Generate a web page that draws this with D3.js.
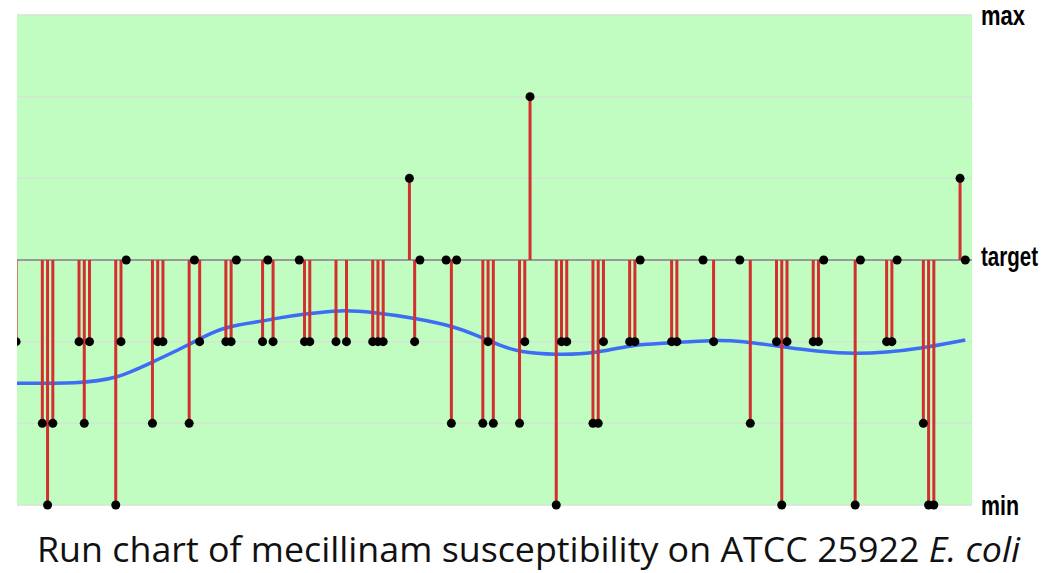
<!DOCTYPE html>
<html>
<head>
<meta charset="utf-8">
<script src="https://cdn.jsdelivr.net/npm/d3@7"></script>
<style>
	body { margin: 0; background: #fff; }
	svg { display: block; }
</style>
</head>
<body>
<svg id="chart" width="1058" height="573"></svg>
<script>
// run index of each measurement and its deviation from target (in steps)
let runIdx = [0, 5, 6, 7, 12, 13, 14, 19, 20, 21, 26, 27, 28, 33, 34, 35, 40, 41, 42,
	47, 48, 49, 54, 55, 56, 61, 63, 68, 69, 70, 75, 76, 77, 82, 83, 84,
	89, 90, 91, 96, 97, 98, 103, 104, 105, 110, 111, 112, 117, 118, 119,
	125, 126, 131, 133, 138, 140, 145, 146, 147, 152, 153, 154, 160, 161,
	166, 167, 168, 173, 174, 175, 180, 181];
let runVal = [-1, -2, -3, -2, -1, -2, -1, -3, -1, 0, -2, -1, -1, -2, 0, -1, -1, -1, 0,
	-1, 0, -1, 0, -1, -1, -1, -1, -1, -1, -1, 1, -1, 0, 0, -2, 0,
	-2, -1, -2, -2, -1, 2, -3, -1, -1, -2, -2, -1, -1, -1, 0,
	-1, -1, 0, -1, 0, -2, -1, -3, -1, -1, -1, 0, -3, 0,
	-1, -1, 0, -2, -3, -3, 1, 0];

// moving average (blue line)
let avgIdx = [0, 12, 19, 26, 33, 39, 47, 49, 55, 62, 68, 76, 84, 88, 92, 96, 103, 110, 117, 124, 133, 138, 147, 153, 160, 166, 172, 181];
let avgVal = [-1.51, -1.51, -1.46, -1.25, -1.04, -0.82, -0.75, -0.72, -0.66, -0.61, -0.64, -0.71, -0.82, -0.93, -1.04, -1.13, -1.16, -1.15, -1.04, -1.02, -0.98, -0.99, -1.07, -1.12, -1.15, -1.13, -1.09, -0.98];

let levels = [-3, -2, -1, 0, 1, 2, 3];
let sideLabels = ['min', 'target', 'max'];
let sideLevels = [-3, 0, 3];

let svg = d3.select('svg#chart');
let plot = { left: 17, right: 972, top: 15, bottom: 505 };

let x = d3.scaleLinear([0, 181], [16.1, 965.3]);
let y = d3.scaleLinear([-3, 3], [plot.bottom, plot.top]);

svg.append('defs').append('clipPath').attr('id', 'clipLeft')
	.append('rect')
	.attr('x', plot.left).attr('y', 0)
	.attr('width', 1058 - plot.left).attr('height', 573);

svg.append('rect')
	.attr('x', plot.left).attr('y', plot.top)
	.attr('width', plot.right - plot.left).attr('height', plot.bottom - plot.top)
	.attr('fill', '#c1fcc1');

//gridlines
svg.append('g').selectAll('line')
	.data(levels.filter(d => d != 0))
	.join('line')
	.attr('x1', plot.left).attr('x2', plot.right)
	.attr('y1', d => y(d)).attr('y2', d => y(d))
	.attr('stroke', '#d3e6d3')
	.attr('stroke-width', 1.5);

// target line
svg.append('line')
	.attr('x1', plot.left).attr('x2', plot.right)
	.attr('y1', y(0)).attr('y2', y(0))
	.attr('stroke', '#999')
	.attr('stroke-width', 2);

let g = svg.append('g').attr('clip-path', 'url(#clipLeft)');

let avgData = avgIdx.map((d, i) => ({ i: d, v: avgVal[i] }));
let line = d3.line()
	.x(d => x(d.i))
	.y(d => y(d.v))
	.curve(d3.curveBasis);

g.append('path')
	.datum(avgData)
	.attr('fill', 'none')
	.attr('stroke', '#3d6cf5')
	.attr('stroke-width', 3.5)
	.attr('d', line);

let runData = runIdx.map((d, i) => ({ i: d, v: runVal[i] }));

g.append('g').selectAll('line')
	.data(runData.filter(d => d.v != 0))
	.join('line')
	.attr('x1', d => x(d.i)).attr('x2', d => x(d.i))
	.attr('y1', y(0)).attr('y2', d => y(d.v))
	.attr('stroke', '#d42f2f')
	.attr('stroke-width', 3);

g.append('g').selectAll('circle')
	.data(runData)
	.join('circle')
	.attr('cx', d => x(d.i))
	.attr('cy', d => y(d.v))
	.attr('r', 4.5)
	.attr('fill', '#000');

// side labels
let labelWidth = { 'max': 44, 'target': 57, 'min': 38 };
let labelDy = { 'max': 10, 'target': 6, 'min': 10 };
svg.append('g').selectAll('text')
	.data(sideLabels)
	.join('text')
	.attr('x', 981)
	.attr('y', (d, i) => y(sideLevels[i]) + labelDy[d])
	.attr('font-family', 'Liberation Sans, Arial, sans-serif')
	.attr('font-weight', 'bold')
	.attr('font-size', 28)
	.attr('textLength', d => labelWidth[d])
	.attr('lengthAdjust', 'spacingAndGlyphs')
	.attr('fill', '#000')
	.text(d => d);

// caption
let cap = svg.append('text')
	.attr('x', 37)
	.attr('y', 562)
	.attr('font-family', 'Open Sans, Noto Sans, sans-serif')
	.attr('font-size', 34)
	.attr('textLength', 983)
	.attr('lengthAdjust', 'spacingAndGlyphs')
	.attr('fill', '#111');
cap.append('tspan').text('Run chart of mecillinam susceptibility on ATCC 25922 ');
cap.append('tspan').attr('font-style', 'italic').text('E. coli');
</script>
</body>
</html>
